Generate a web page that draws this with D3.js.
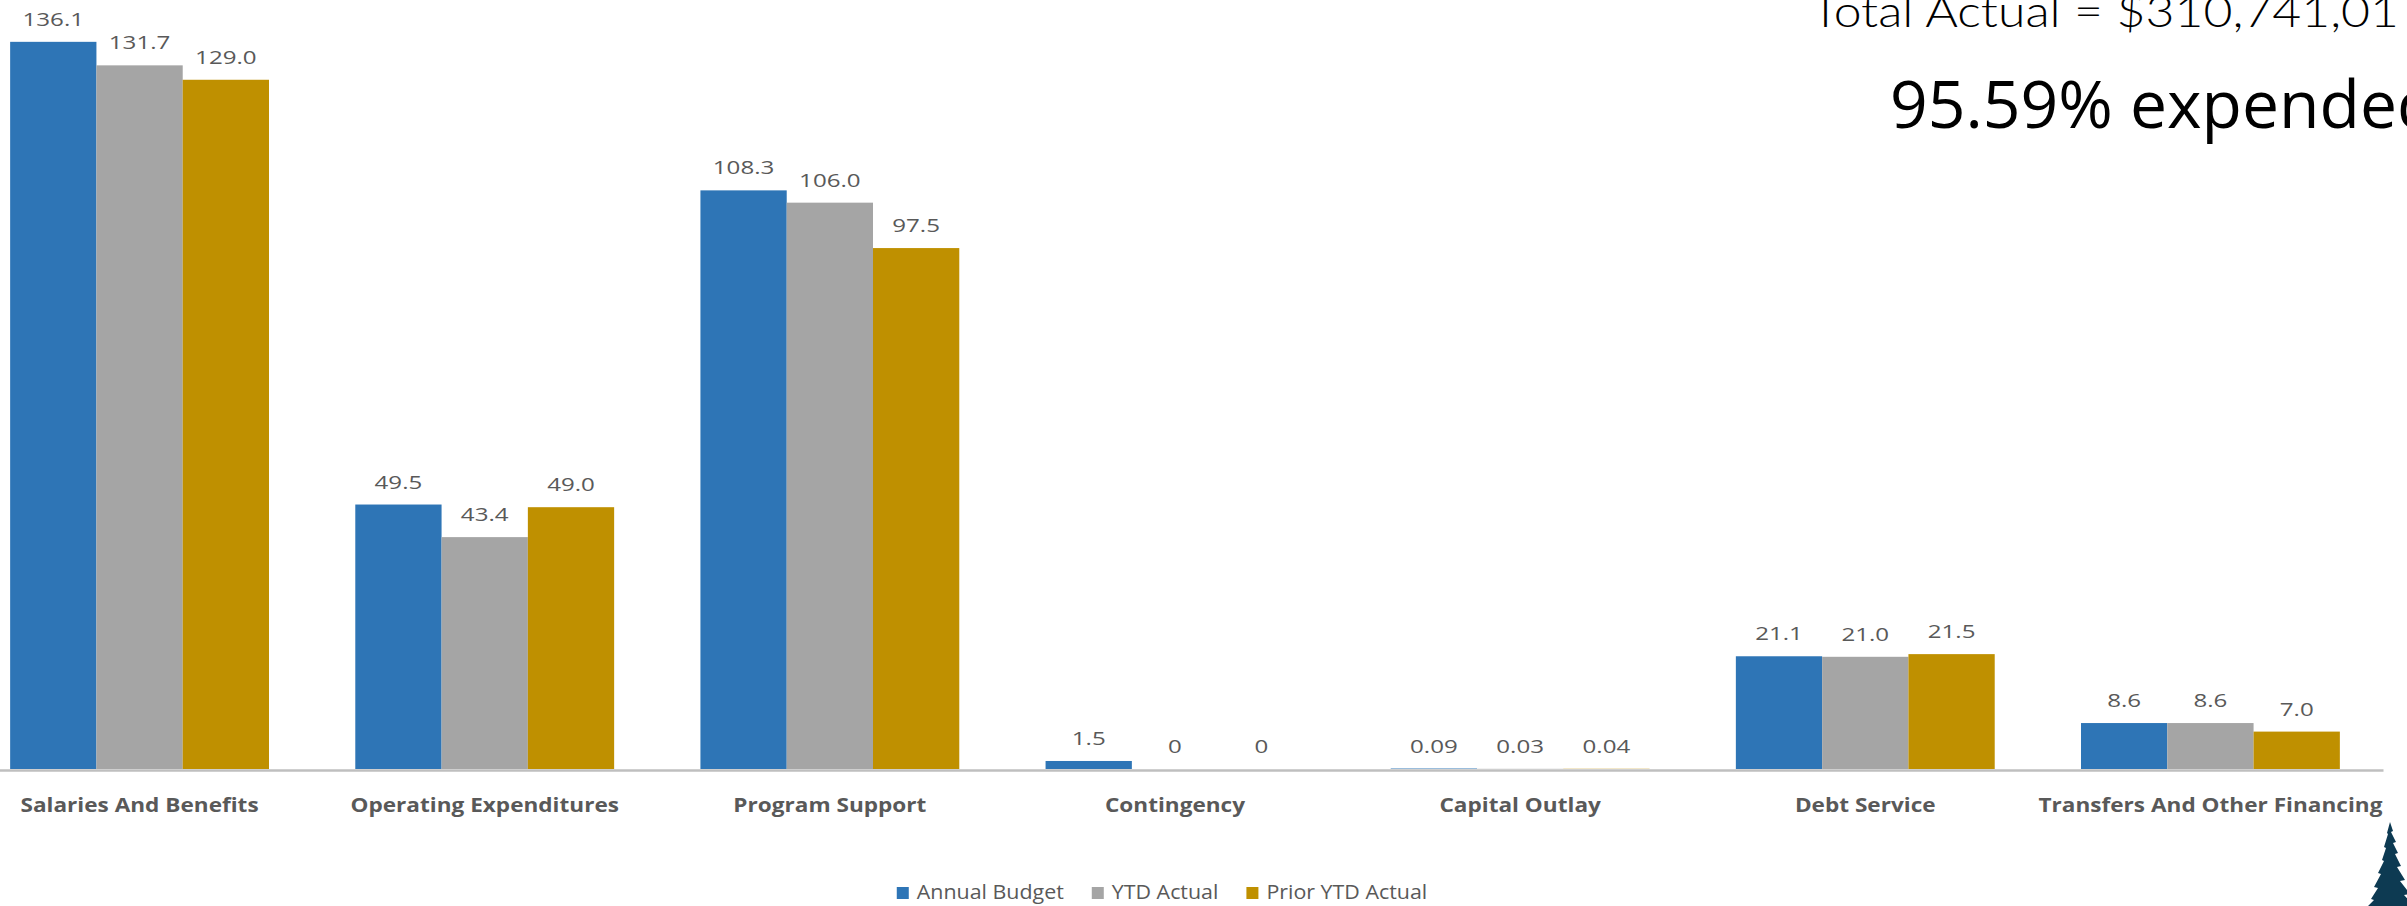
<!DOCTYPE html>
<html><head><meta charset="utf-8">
<script src="https://cdn.jsdelivr.net/npm/d3@7"></script>
<style>html,body{margin:0;padding:0;background:#fff;overflow:hidden}</style>
</head><body><svg id="c" width="2407" height="906"></svg>
<script>
const categories = ["Salaries And Benefits","Operating Expenditures","Program Support","Contingency","Capital Outlay","Debt Service","Transfers And Other Financing"];
const seriesNames = ["Annual Budget","YTD Actual","Prior YTD Actual"];
const annualBudget = [136.1,49.5,108.3,1.5,0.09,21.1,8.6];
const ytdActual = [131.7,43.4,106.0,0,0.03,21.0,8.6];
const priorYtdActual = [129.0,49.0,97.5,0,0.04,21.5,7.0];
const seriesColors = ["#2e75b6","#a5a5a5","#bf9000"];
const totalText = "Total Actual = $310,741,01";
const pctText = "95.59% expended";

const seriesValues = [annualBudget, ytdActual, priorYtdActual];
const svg = d3.select("#c");
svg.append("rect").attr("width",2407).attr("height",906).attr("fill","#fff");

const x0 = d3.scaleBand().domain(categories).range([-33, 2383]).paddingInner(0.25).paddingOuter(0.125);
const x1 = d3.scaleBand().domain(seriesNames).range([0, x0.bandwidth()]);
const y = d3.scaleLinear().domain([0,140]).range([769, 21]);

const fmt = v => v === 0 ? "0" : (v < 1 ? v.toFixed(2) : v.toFixed(1));

const data = [];
categories.forEach((c,i) => seriesNames.forEach((s,j) => data.push({c, s, j, v: seriesValues[j][i]})));

svg.append("g").selectAll("rect").data(data).join("rect")
  .attr("x", d => x0(d.c) + x1(d.s))
  .attr("y", d => y(d.v))
  .attr("width", x1.bandwidth())
  .attr("height", d => y(0) - y(d.v))
  .attr("fill", d => seriesColors[d.j]);

const SXV = 1.27;
svg.append("g").selectAll("text").data(data).join("text")
  .attr("transform", d => `translate(${x0(d.c) + x1(d.s) + x1.bandwidth()/2},${y(d.v) - 16}) scale(${SXV},1)`)
  .attr("text-anchor","middle")
  .attr("font-family","'Open Sans', sans-serif")
  .attr("font-size", 19)
  .attr("fill","#595959")
  .text(d => fmt(d.v));

// axis
const ax = svg.append("g").attr("transform","translate(0,770)")
  .call(d3.axisBottom(x0).tickSize(0).tickSizeOuter(0).tickPadding(0));
ax.select(".domain").attr("stroke","#bfbfbf").attr("stroke-width",2.5);
ax.selectAll(".tick text")
  .attr("y", 42).attr("dy", 0)
  .attr("transform","scale(1.13,1)")
  .attr("font-family","'Open Sans', sans-serif")
  .attr("font-weight","bold")
  .attr("font-size", 20)
  .attr("fill","#595959");

// legend
const lg = svg.append("g");
const items = lg.selectAll("g").data(seriesNames).join("g");
items.append("rect").attr("width",12).attr("height",12).attr("y",887).attr("fill",(d,i)=>seriesColors[i]);
items.append("text").attr("transform","translate(20,899) scale(1.07,1)")
  .attr("font-family","'Open Sans', sans-serif").attr("font-size",20).attr("fill","#595959").text(d=>d);
let xpos = 0; const widths=[];
items.each(function(){ const t = d3.select(this).select("text").node(); widths.push(20 + t.getComputedTextLength()*1.07); });
const gap = 28;
const total = d3.sum(widths) + gap*(widths.length-1);
xpos = 1162 - total/2;
items.attr("transform", (d,i) => { const t = `translate(${xpos},0)`; xpos += widths[i] + gap; return t; });

// top right texts
svg.append("text").attr("x",1811).attr("y",27)
  .attr("font-family","Lato, sans-serif").attr("font-weight",300).attr("font-size",44)
  .attr("textLength",588).attr("lengthAdjust","spacingAndGlyphs")
  .attr("fill","#000").text(totalText);
svg.append("text").attr("x",1890).attr("y",128)
  .attr("font-family","'Open Sans', sans-serif").attr("font-size",66)
  .attr("fill","#000").text(pctText);

// tree decoration
svg.append("path")
  .attr("transform","translate(2390,822)")
  .attr("fill","#0d3a52")
  .attr("d","M0,0 L3,9 L1,10 L6,20 L3,21 L8,31 L5,32 L11,44 L7,45 L15,58 L10,59 L20,72 L14,73 L26,86 L26,90 L-26,90 L-24,86 L-16,78 L-19,77 L-12,66 L-16,65 L-9,52 L-12,51 L-6,39 L-8,38 L-4,26 L-6,25 L-2,12 L-3,11 Z");
</script></body></html>
